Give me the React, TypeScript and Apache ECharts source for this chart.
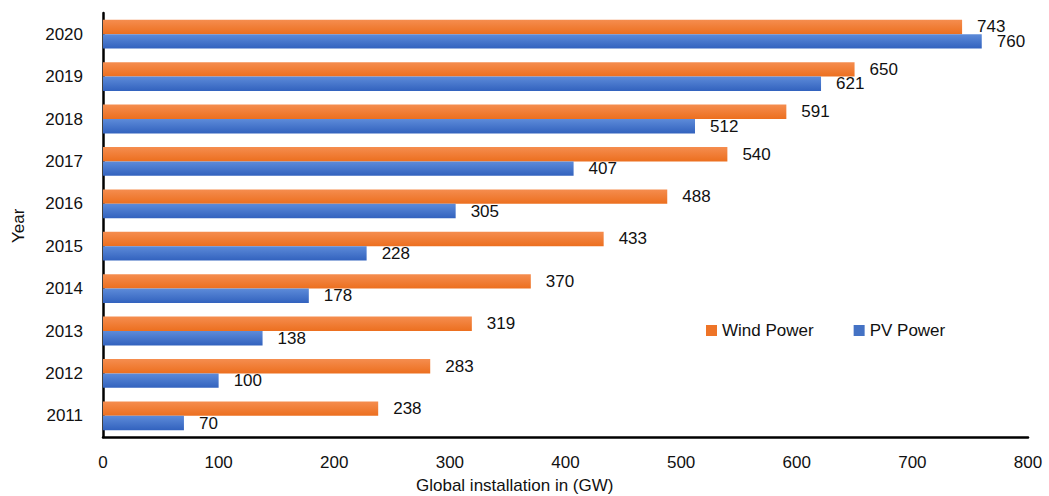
import React, { useEffect, useRef } from "react";
import * as echarts from "echarts";

const years = ["2011", "2012", "2013", "2014", "2015", "2016", "2017", "2018", "2019", "2020"];
const windPower = [238, 283, 319, 370, 433, 488, 540, 591, 650, 743];
const pvPower = [70, 100, 138, 178, 228, 305, 407, 512, 621, 760];
const seriesNames = ["Wind Power", "PV Power"];

const FONT = "'Liberation Sans', Arial, sans-serif";
const FS = 17;

export default function App() {
  const ref = useRef<HTMLDivElement>(null);
  useEffect(() => {
    if (!ref.current) return;
    const chart = echarts.init(ref.current, null, { renderer: "svg" });
    const orange = new echarts.graphic.LinearGradient(0, 0, 0, 1, [
      { offset: 0, color: "#F58D4F" },
      { offset: 1, color: "#EC6F1F" },
    ]);
    const blue = new echarts.graphic.LinearGradient(0, 0, 0, 1, [
      { offset: 0, color: "#5D8BD9" },
      { offset: 1, color: "#3262BE" },
    ]);
    const labelStyle = {
      show: true,
      position: "right" as const,
      distance: 15,
      color: "#111",
      fontSize: FS,
      fontFamily: FONT,
    };
    chart.setOption({
      animation: false,
      backgroundColor: "#fff",
      grid: { left: 103, right: 21, top: 13, bottom: 59, containLabel: false },
      legend: {
        data: [
          { name: seriesNames[0], itemStyle: { color: "#EE7427" } },
          { name: seriesNames[1], itemStyle: { color: "#4472C4" } },
        ],
        left: 701,
        top: 317,
        padding: 5,
        orient: "horizontal",
        icon: "rect",
        itemWidth: 11,
        itemHeight: 11,
        itemGap: 40,
        textStyle: { fontSize: FS, fontFamily: FONT, color: "#111" },
      },
      xAxis: {
        type: "value",
        min: 0,
        max: 800,
        interval: 100,
        axisLine: { show: true, lineStyle: { color: "#000", width: 2.5 } },
        axisTick: { show: false },
        splitLine: { show: false },
        axisLabel: { fontSize: FS, fontFamily: FONT, color: "#111", margin: 17 },
      },
      yAxis: {
        type: "category",
        data: years,
        axisLine: { show: true, lineStyle: { color: "#000", width: 2.5 } },
        axisTick: { show: false },
        axisLabel: { fontSize: FS, fontFamily: FONT, color: "#111", margin: 20 },
      },
      series: [
        {
          name: seriesNames[0],
          type: "bar",
          data: windPower,
          barGap: "0%",
          barCategoryGap: "32%",
          itemStyle: { color: orange },
          label: labelStyle,
        },
        {
          name: seriesNames[1],
          type: "bar",
          data: pvPower,
          barGap: "0%",
          barCategoryGap: "32%",
          itemStyle: { color: blue },
          label: labelStyle,
        },
      ],
      graphic: [
        {
          type: "text",
          left: 416,
          top: 477,
          style: { text: "Global installation in (GW)", fontSize: FS, fontFamily: FONT, fill: "#111" },
        },
        {
          type: "text",
          x: 10,
          y: 243,
          rotation: Math.PI / 2,
          style: { text: "Year", fontSize: FS, fontFamily: FONT, fill: "#111" },
        },
      ],
    });
    return () => chart.dispose();
  }, []);
  return (
    <div
      ref={ref}
      style={{ position: "fixed", left: 0, top: 0, width: 1049, height: 496 }}
    />
  );
}
